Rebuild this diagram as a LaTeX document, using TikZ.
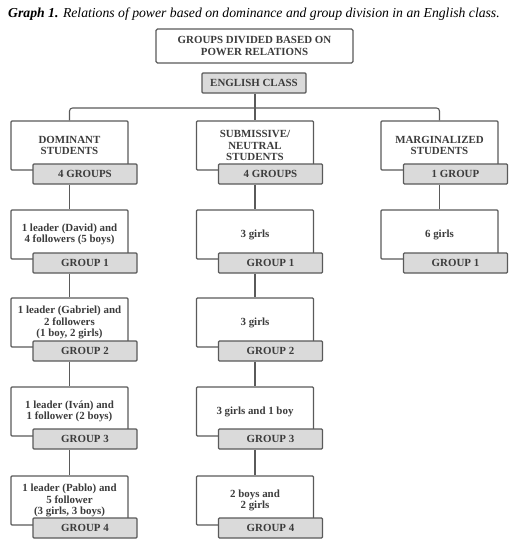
\documentclass[tikz,border=0pt]{standalone}
\usepackage{fontspec}
\setmainfont{Liberation Serif}
\usetikzlibrary{positioning}
\definecolor{grink}{HTML}{3C3C3C}
\definecolor{grline}{HTML}{5A5A5A}
\definecolor{grtag}{HTML}{DADADA}
\tikzset{
  group line/.style={draw=grline, line width=1.1pt},
  head box/.style={group line, rounded corners=1.5pt, fill=white,
    minimum width=197pt, minimum height=34pt, inner sep=1pt},
  cat box/.style={group line, rounded corners=1pt, fill=white,
    minimum width=117pt, minimum height=49pt, inner sep=1pt},
  tag box/.style={group line, rounded corners=1pt, fill=grtag,
    minimum width=104pt, minimum height=20pt, inner sep=1pt},
  box text/.style={font=\bfseries\fontsize{10.9}{11.3}\selectfont,
    text=grink, align=center},
}

\begin{document}
\begin{tikzpicture}[x=1pt, y=-1pt]
  \useasboundingbox[fill=white] (0,0) rectangle (514,550);
  \node[anchor=base west, inner sep=0pt, font=\fontsize{13.7}{15}\selectfont, text=black]
    (title) at (8,17) {\textbf{\textit{Graph 1.}} \textit{Relations of power based on dominance and group division in an English class.}};

  \begin{scope}
    \clip (0,0) rectangle (514,538.5);
    % header
    \node[head box, box text] (head) at (254.5,46) {GROUPS DIVIDED BASED ON\\POWER RELATIONS};
    \node[tag box, box text, minimum width=104pt] (eng) at (254,83) {ENGLISH CLASS};
    \coordinate (split) at (255,108);

    % dominant students
    \node[cat box, box text] (dom0) at (69.5,145.5) {DOMINANT\\STUDENTS};
    \node[tag box, box text] (domtag0) at (85,174) {4 GROUPS};
    \node[cat box, box text] (dom1) at (69.5,234.5) {1 leader (David) and\\4 followers (5 boys)};
    \node[tag box, box text] (domtag1) at (85,263) {GROUP 1};
    \node[cat box, box text] (dom2) at (69.5,322.5) {1 leader (Gabriel) and\\2 followers\\(1 boy, 2 girls)};
    \node[tag box, box text] (domtag2) at (85,351) {GROUP 2};
    \node[cat box, box text] (dom3) at (69.5,411.5) {1 leader (Iván) and\\1 follower (2 boys)};
    \node[tag box, box text] (domtag3) at (85,439) {GROUP 3};
    \node[cat box, box text] (dom4) at (69.5,500.5) {1 leader (Pablo) and\\5 follower\\(3 girls, 3 boys)};
    \node[tag box, box text] (domtag4) at (85,528) {GROUP 4};

    % submissive / neutral students
    \node[cat box, box text] (sub0) at (255,145.5) {SUBMISSIVE/\\NEUTRAL\\STUDENTS};
    \node[tag box, box text] (subtag0) at (270.5,174) {4 GROUPS};
    \node[cat box, box text] (sub1) at (255,234.5) {3 girls};
    \node[tag box, box text] (subtag1) at (270.5,263) {GROUP 1};
    \node[cat box, box text] (sub2) at (255,322.5) {3 girls};
    \node[tag box, box text] (subtag2) at (270.5,351) {GROUP 2};
    \node[cat box, box text] (sub3) at (255,411.5) {3 girls and 1 boy};
    \node[tag box, box text] (subtag3) at (270.5,439) {GROUP 3};
    \node[cat box, box text] (sub4) at (255,500.5) {2 boys and\\2 girls};
    \node[tag box, box text] (subtag4) at (270.5,528) {GROUP 4};

    % marginalized students
    \node[cat box, box text] (mar0) at (439.5,145.5) {MARGINALIZED\\STUDENTS};
    \node[tag box, box text] (martag0) at (455.5,174) {1 GROUP};
    \node[cat box, box text] (mar1) at (439.5,234.5) {6 girls};
    \node[tag box, box text] (martag1) at (455.5,263) {GROUP 1};
  \end{scope}

  % connectors
  \draw[group line] (eng.south -| split) -- (sub0.north);
  \draw[group line, rounded corners=3pt] (dom0.north) |- (split) -| (mar0.north);
  \foreach \col/\a/\b in {dom/0/1, dom/1/2, dom/2/3, dom/3/4,
                          sub/0/1, sub/1/2, sub/2/3, sub/3/4, mar/0/1}
    \draw[group line] (\col tag\a.south -| \col\b.north) -- (\col\b.north);
\end{tikzpicture}
\end{document}
